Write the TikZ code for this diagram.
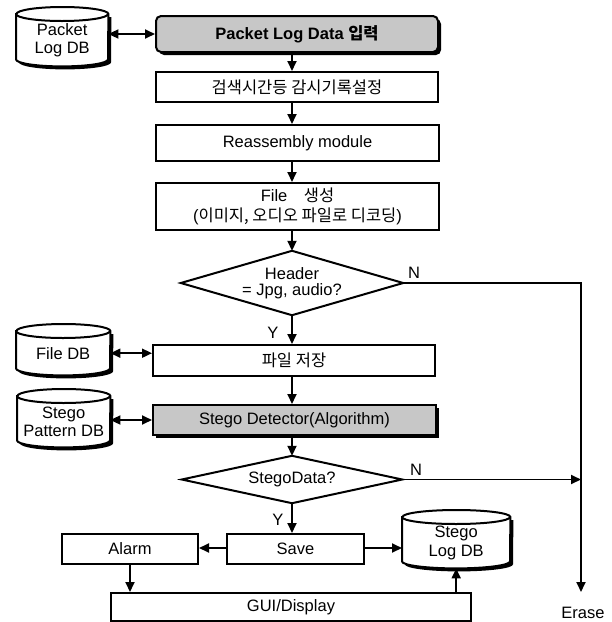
\documentclass[tikz,border=0pt]{standalone}
\usepackage{fontspec}
\setmainfont{Liberation Sans}
\newfontfamily\kr{Noto Sans CJK KR}
\usetikzlibrary{arrows.meta,shadows,calc,backgrounds}

\newcommand\dbdraw[2]{%
  \fill[black] ([shift={(3,3)}]#1.north west) -- ([shift={(3,-4)}]#1.south west)
     arc[start angle=180,end angle=360,x radius=#2pt,y radius=7pt]
     -- ([shift={(3,3)}]#1.north east) -- cycle;
  \filldraw[fill=white, line width=2pt] (#1.north west) -- ([shift={(0,-7)}]#1.south west)
     arc[start angle=180,end angle=360,x radius=#2pt,y radius=7pt]
     -- (#1.north east)
     arc[start angle=0,end angle=180,x radius=#2pt,y radius=7pt] -- cycle;
  \draw[line width=2pt] (#1.north west) arc[start angle=180,end angle=360,x radius=#2pt,y radius=7pt];
}

\begin{document}
\begin{tikzpicture}[x=1pt,y=-1pt,
  font=\fontsize{16.5}{18.5}\selectfont,
  conn/.style={line width=1.8pt, -{Triangle[length=10pt,width=9pt]}},
  biconn/.style={line width=1.8pt, {Triangle[length=10pt,width=9pt]}-{Triangle[length=10pt,width=9pt]}},
  procbox/.style={draw, line width=2pt, fill=white, anchor=north west, inner sep=0pt, align=center},
  graybox/.style={procbox, fill=black!22, drop shadow={shadow xshift=3pt, shadow yshift=-3pt, fill=black, opacity=1}},
  dbnode/.style={anchor=north west, inner sep=0pt, align=center},
  dnode/.style={inner sep=0pt, align=center},
  lbl/.style={inner sep=0pt}
]
\useasboundingbox (0,0) rectangle (612,622);

% process boxes
\node[graybox, rounded corners=5pt, minimum width=282pt, minimum height=36pt] (b1) at (155,15)
  {\bfseries Packet Log Data {\kr\bfseries 입력}};
\node[procbox, minimum width=282pt, minimum height=30pt] (b2) at (155,71) {{\kr 검색시간등 감시기록설정}};
\node[procbox, minimum width=283pt, minimum height=36pt] (b3) at (155,124) {Reassembly module};
\node[procbox, minimum width=283pt, minimum height=47pt] (b4) at (155,182)
  {File\quad{\kr 생성}\\[2pt]({\kr 이미지, 오디오 파일로 디코딩})};
\node[procbox, minimum width=282pt, minimum height=31pt] (b5) at (152,344) {{\kr 파일 저장}};
\node[graybox, minimum width=283pt, minimum height=30pt] (b6) at (152,404) {Stego Detector(Algorithm)};
\node[procbox, minimum width=137pt, minimum height=30pt] (save) at (226,533) {Save};
\node[procbox, minimum width=136pt, minimum height=30pt] (alarm) at (61,533) {Alarm};
\node[procbox, minimum width=360pt, minimum height=28pt] (gui) at (110,592) {GUI/Display};

% decisions
\node[dnode, minimum width=222pt, minimum height=64pt] (d1) at (292,283)
  {Header\\[-3pt]= Jpg, audio?};
\draw[line width=2pt] (d1.north) -- (d1.east) -- (d1.south) -- (d1.west) -- cycle;
\node[dnode, minimum width=220pt, minimum height=47pt] (d2) at (292,479.5) {StegoData?};
\draw[line width=2pt] (d2.north) -- (d2.east) -- (d2.south) -- (d2.west) -- cycle;

% databases
\node[dbnode, minimum width=92pt, minimum height=52pt] (db1) at (16,14) {Packet\\Log DB};
\node[dbnode, minimum width=94pt, minimum height=44pt] (db2) at (16,331) {File DB};
\node[dbnode, minimum width=93pt, minimum height=51pt] (db3) at (17,396) {Stego\\Pattern DB};
\node[dbnode, minimum width=108pt, minimum height=51pt] (db4) at (402,517) {Stego\\Log DB};
\begin{scope}[on background layer]
  \dbdraw{db1}{46}
  \dbdraw{db2}{47}
  \dbdraw{db3}{46.5}
  \dbdraw{db4}{54}
\end{scope}

% labels
\node[lbl] (erase) at (583,613) {Erase};
\coordinate (eend) at (581,592);
\coordinate (col) at (292,0);
\node[lbl] (n1) at (414,273) {N};
\node[lbl] (n2) at (416,470) {N};
\node[lbl] (y1) at (273,333) {Y};
\node[lbl] (y2) at (278,520) {Y};

% connectors
\draw[biconn] (b1.west -| db1.east) -- (b1.west);
\draw[biconn] (db2.east) -- (db2.east -| b5.west);
\draw[biconn] (b6.west -| db3.east) -- (b6.west);
\draw[conn] (b1.south -| col) -- (b2.north -| col);
\draw[conn] (b2.south -| col) -- (b3.north -| col);
\draw[conn] (b3.south -| col) -- (b4.north -| col);
\draw[conn] (b4.south -| col) -- (d1.north);
\draw[conn] (d1.south) -- (b5.north -| d1.south);
\draw[conn] (b5.south -| col) -- (b6.north -| col);
\draw[conn] (b6.south -| col) -- (d2.north);
\draw[conn] (d2.south) -- (save.north -| d2.south);
\draw[conn] (d1.east) -- (d1.east -| eend) -- (eend);
\draw[conn] (d2.east) -- (d2.east -| eend);
\draw[conn] (save.west |- 0,548) -- (alarm.east |- 0,548);
\draw[conn] (save.east |- 0,548) -- (db4.west |- 0,548);
\draw[conn] (alarm.south) -- (alarm.south |- gui.north);
\draw[conn] (gui.north -| db4.south) -- (db4.south);
\end{tikzpicture}
\end{document}
